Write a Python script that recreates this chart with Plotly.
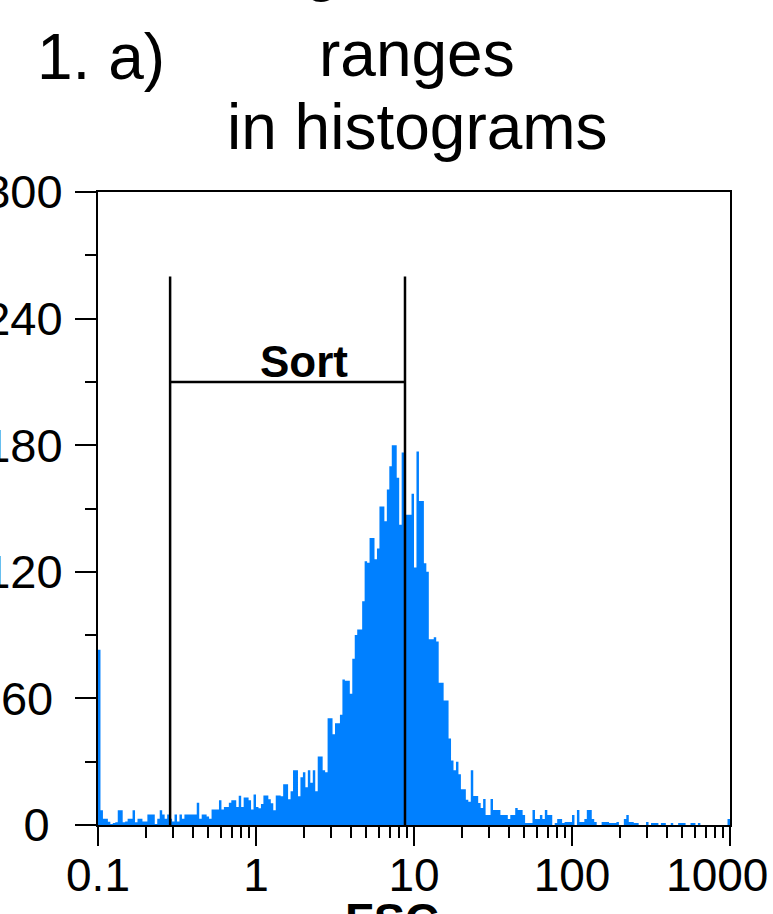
import math
import plotly.graph_objects as go

# ---------------- data ----------------
decade_lo, decade_hi, n_channels = 0.1, 1000.0, 256   # log-scaled FSC channels
counts = [
    83, 7, 3, 3, 1.5, 0.5, 1, 1.3, 7, 7, 1.3, 1.6, 3, 3, 7, 1.3,
    3, 3, 1.6, 1.6, 5, 5, 5, 0.5, 3, 7, 5, 3, 5, 3, 1.6, 5,
    1.6, 5, 3, 5, 5, 5, 5, 5, 10.6, 3, 5, 5, 4, 3, 7.3, 7.3,
    7.3, 11.7, 7.3, 8.5, 8.5, 10.6, 11.7, 11.7, 8.5, 13.9, 8.5, 13, 13, 11.7, 7.3, 14.5,
    8.5, 7.9, 10, 14, 14, 12.2, 10.3, 7, 14, 14, 13.6, 19.3, 19.3, 12.2, 16, 26,
    26, 13.6, 22.6, 25, 17.9, 26, 20, 26, 16, 32.5, 32.5, 26, 25, 50.6, 50.6, 43,
    48.2, 48.2, 52.3, 68.9, 68.4, 68.4, 62.2, 78.8, 90, 92.6, 92.6, 106, 125, 124.3, 136, 136,
    126, 131, 151, 151, 144, 159, 170, 180, 180, 164.6, 142.3, 176.5, 147, 147, 147, 157,
    122, 177, 153.5, 153.5, 124, 120, 88, 88, 89, 87, 67.4, 67.4, 59, 59, 41, 30.6,
    26, 30, 24, 17, 17, 12, 11, 26, 13.7, 13.7, 10.4, 8, 12.3, 4.7, 4.7, 12.3,
    7.1, 7.1, 7.1, 4.7, 4.7, 4.7, 2.8, 4.7, 4.7, 8, 7.1, 7.1, 4.7, 1, 1, 1,
    7.1, 2.8, 2.8, 4.7, 2.8, 7.1, 4.7, 4.7, 0, 1, 2.8, 2.8, 1, 1.4, 1.4, 1.4,
    4.7, 0, 7.1, 1.4, 1.4, 2.8, 7.1, 7.1, 2.8, 1.4, 0, 0, 1.4, 1.4, 1.4, 1,
    1, 1, 1.4, 0, 0, 2.8, 4.7, 1.4, 1.4, 1, 1, 0, 0, 0, 1.4, 0,
    1, 1, 1, 0, 1, 1, 0, 0, 1, 0, 0, 1, 1, 1, 0, 0,
    1, 1, 0, 1, 0, 0, 0, 0, 0, 0, 0, 0, 0, 0, 0, 2.8,
]
assert len(counts) == n_channels

sort_gate = [0.286, 8.77]      # FSC limits of the sort region
sort_gate_top = 260            # height of the gate's vertical markers
sort_bar_level = 210           # height of the horizontal bar
sort_label = "Sort"

x_ticks = [0.1, 1, 10, 100, 1000]
x_tick_text = ["0.1", "1", "10", "100", "1000\u00a0\u00a0"]
x_minor = [m * 10 ** k for k in range(-1, 3) for m in range(2, 10)]
y_ticks = [0, 60, 120, 180, 240, 300]
y_tick_text = ["0\u00a0", "60\u2009", "120", "180", "240", "300"]
y_minor = [30, 90, 150, 210, 270]

title_lines = ["Setting", "ranges", "in histograms"]
panel_label = "1. a)"
x_title = "FSC"

# ---------------- figure ----------------
FONT = "Liberation Sans, Arial, sans-serif"
BLUE = "#0080ff"

lo_l, hi_l = math.log10(decade_lo), math.log10(decade_hi)
edges = [10 ** (lo_l + (hi_l - lo_l) * i / n_channels) for i in range(n_channels + 1)]

fig = go.Figure()
fig.add_trace(go.Scatter(
    x=edges, y=counts + [counts[-1]], mode="lines", line_shape="hv",
    line=dict(width=0, color=BLUE), fill="tozeroy", fillcolor=BLUE,
    hoverinfo="skip", showlegend=False))

g0, g1 = sort_gate
fig.add_trace(go.Scatter(
    x=[g0, g0, None, g1, g1, None, g0, g1],
    y=[0, sort_gate_top, None, 0, sort_gate_top, None, sort_bar_level, sort_bar_level],
    mode="lines", line=dict(color="black", width=2.5), showlegend=False,
    hoverinfo="skip"))

W, H = 773, 914
L, R, T, B = 98, 43, 192, 89
pw, ph = W - L - R, H - T - B


def px_x(px):
    return (px - L) / pw


def px_y(py):
    return (H - B - py) / ph


fig.add_annotation(x=math.log10(2.0), y=sort_bar_level, xref="x", yref="y",
                   text=sort_label, showarrow=False, yanchor="bottom",
                   font=dict(family=FONT, size=44, color="black", weight="bold"),
                   yshift=-6)

tfont = dict(family=FONT, size=64, color="black")
fig.add_annotation(x=px_x(341), y=px_y(-33), xref="paper", yref="paper",
                   text=title_lines[0], showarrow=False, xanchor="right",
                   yanchor="middle", font=tfont)
fig.add_annotation(x=px_x(417), y=px_y(54), xref="paper", yref="paper",
                   text=title_lines[1], showarrow=False, xanchor="center",
                   yanchor="middle", font=tfont)
fig.add_annotation(x=px_x(417), y=px_y(127), xref="paper", yref="paper",
                   text=title_lines[2], showarrow=False, xanchor="center",
                   yanchor="middle", font=tfont)
fig.add_annotation(x=px_x(35), y=px_y(57), xref="paper", yref="paper",
                   text=panel_label, showarrow=False, xanchor="left",
                   yanchor="middle", font=tfont)
fig.add_annotation(x=px_x(392), y=px_y(891), xref="paper", yref="paper",
                   text=x_title, showarrow=False, xanchor="center",
                   yanchor="top", font=dict(family=FONT, size=47, color="black", weight="bold"))

fig.update_layout(
    width=W, height=H,
    margin=dict(l=L, r=R, t=T, b=B, autoexpand=False),
    paper_bgcolor="white", plot_bgcolor="white",
    font=dict(family=FONT, size=46, color="black"),
    showlegend=False,
)
fig.update_xaxes(
    type="log", range=[lo_l, hi_l], automargin=False,
    tickmode="array", tickvals=x_ticks, ticktext=x_tick_text,
    ticks="outside", ticklen=19, tickwidth=2, tickcolor="black",
    showline=True, linewidth=2, linecolor="black", mirror=True,
    showgrid=False, zeroline=False, ticklabelstandoff=-10,
    ticklabeloverflow="allow",
    tickfont=dict(family=FONT, size=46, color="black"),
    minor=dict(tickmode="array", tickvals=x_minor, ticks="outside",
               ticklen=11, tickwidth=2, tickcolor="black", showgrid=False),
)
fig.update_yaxes(
    range=[0, 300], automargin=False,
    tickmode="array", tickvals=y_ticks, ticktext=y_tick_text,
    ticks="outside", ticklen=21, tickwidth=2, tickcolor="black",
    showline=True, linewidth=2, linecolor="black", mirror=True,
    showgrid=False, zeroline=False, ticklabelstandoff=3,
    ticklabeloverflow="allow",
    tickfont=dict(family=FONT, size=47, color="black"),
    minor=dict(tickmode="array", tickvals=y_minor, ticks="outside",
               ticklen=11, tickwidth=2, tickcolor="black", showgrid=False),
)

fig.write_html("out.html")
